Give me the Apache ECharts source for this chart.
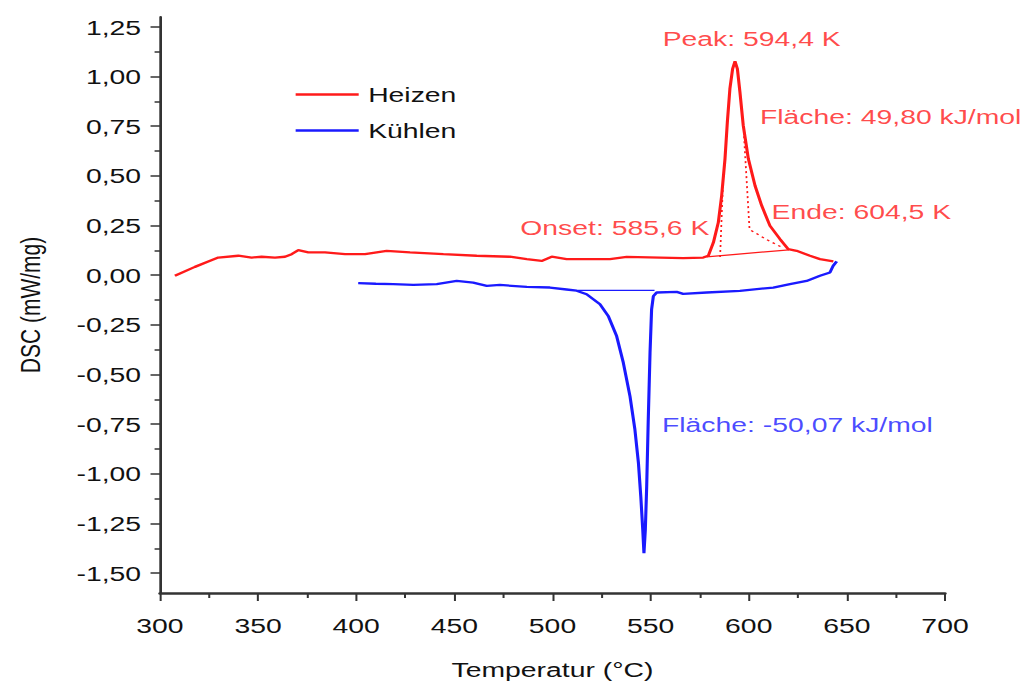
<!DOCTYPE html>
<html>
<head>
<meta charset="utf-8">
<script src="https://cdn.jsdelivr.net/npm/echarts@6/dist/echarts.min.js"></script>
<style>
  html, body { margin: 0; padding: 0; background: #fff; overflow: hidden; width: 1026px; height: 696px; }
  /* the plot is laid out on a narrower canvas and widened horizontally */
  #chart { width: 760px; height: 696px; transform: scaleX(1.35); transform-origin: 0 0; }
</style>
</head>
<body>
<div id="chart"></div>
<script>
// DSC measurement: heating and cooling run, temperature in °C, signal in mW/mg
const heating = [
  [307.6, -0.003], [317.8, 0.042], [324.6, 0.069], [329.7, 0.089], [339.9, 0.098],
  [346.7, 0.089], [351.8, 0.093], [358.6, 0.089], [363.7, 0.093], [367.1, 0.106],
  [370.5, 0.126], [375.6, 0.115], [384.1, 0.115], [394.3, 0.106], [404.5, 0.106],
  [415.5, 0.123], [427.4, 0.115], [444.4, 0.106], [461.4, 0.098], [478.3, 0.093],
  [486.9, 0.081], [494.5, 0.072], [499.6, 0.093], [507.2, 0.081], [514.0, 0.081],
  [529.3, 0.081], [537.8, 0.092], [554.8, 0.089], [566.6, 0.086], [576.8, 0.089],
  [579.4, 0.098], [582.0, 0.165], [584.5, 0.266], [586.2, 0.400], [587.9, 0.586],
  [589.1, 0.771], [590.4, 0.939], [591.8, 1.040], [593.0, 1.077], [594.2, 1.040],
  [595.5, 0.923], [597.2, 0.754], [599.8, 0.586], [603.2, 0.451], [606.6, 0.350],
  [610.8, 0.249], [615.9, 0.182], [620.1, 0.131], [624.4, 0.123], [631.2, 0.098],
  [636.3, 0.081], [643.1, 0.070]
];

const cooling = [
  [401.0, -0.040], [410.0, -0.043], [418.9, -0.045], [429.1, -0.049], [441.0, -0.045],
  [451.2, -0.029], [459.6, -0.037], [466.5, -0.054], [473.2, -0.049], [486.9, -0.059],
  [498.7, -0.062], [507.2, -0.072], [512.3, -0.078], [517.4, -0.096], [524.2, -0.146],
  [528.4, -0.205], [532.7, -0.307], [536.1, -0.441], [539.5, -0.610], [542.0, -0.778],
  [543.8, -0.946], [545.0, -1.115], [546.0, -1.283], [546.6, -1.400], [547.3, -1.283],
  [548.0, -1.064], [548.8, -0.727], [549.7, -0.390], [550.5, -0.172], [551.4, -0.105],
  [553.1, -0.087], [563.3, -0.084], [566.6, -0.094], [578.6, -0.087], [595.5, -0.079],
  [612.5, -0.062], [621.0, -0.045], [629.5, -0.029], [636.3, -0.003], [641.4, 0.014],
  [643.0, 0.047], [644.8, 0.070]
];

// integration baselines and onset / end tangents
const heatBaseline = [[578.5, 0.092], [620.5, 0.128]];
const onsetTangent = [[585.4, 0.092], [587.0, 0.500]];
const endTangent = [[597.6, 0.700], [600.4, 0.230], [609.0, 0.180], [617.0, 0.140]];
const coolBaseline = [[512.8, -0.076], [552.0, -0.076]];

const seriesNames = ['Heizen', 'Kühlen'];
const annotationText = [
  'Peak: 594,4 K',
  'Fläche: 49,80 kJ/mol',
  'Ende: 604,5 K',
  'Onset: 585,6 K',
  'Fläche: -50,07 kJ/mol'
];

const xTicks = { min: 300, max: 700, step: 50 };
const yMajorTicks = [-1.5, -1.25, -1.0, -0.75, -0.5, -0.25, 0, 0.25, 0.5, 0.75, 1.0, 1.25];
const yMinorTicks = [-1.375, -1.125, -0.875, -0.625, -0.375, -0.125, 0.125, 0.375, 0.625, 0.875, 1.125];
const yRange = { min: -1.6, max: 1.3 };

const RED = '#ff1a1a';
const BLUE = '#1a1aff';
const AXIS = '#333333';
const INK = '#111111';
const FONT = '"Liberation Sans", Arial, Helvetica, sans-serif';

const chart = echarts.init(document.getElementById('chart'), null, { renderer: 'svg' });

const commaFmt = v => v.toFixed(2).replace('.', ',');

chart.setOption({
  animation: false,
  backgroundColor: '#fff',
  textStyle: { fontFamily: FONT },
  grid: { left: 118.5, right: 60, top: 17, bottom: 103 },
  legend: {
    data: seriesNames,
    orient: 'vertical',
    left: 214,
    top: 79,
    itemWidth: 46.7,
    itemHeight: 2.5,
    itemGap: 15,
    icon: 'rect',
    textStyle: { fontSize: 21, color: INK, fontFamily: FONT, padding: [0, 0, 0, 2] }
  },
  xAxis: {
    type: 'value',
    min: xTicks.min,
    max: xTicks.max,
    interval: xTicks.step,
    name: 'Temperatur (°C)',
    nameLocation: 'middle',
    nameGap: 66,
    nameTextStyle: { fontSize: 21, color: INK, fontFamily: FONT },
    axisLine: { show: true, onZero: false, lineStyle: { color: AXIS, width: 2.5 } },
    axisTick: { show: true, inside: false, length: 8, lineStyle: { color: AXIS, width: 1.5 } },
    minorTick: { show: true, splitNumber: 2, length: 5, lineStyle: { color: AXIS, width: 1.5 } },
    axisLabel: { fontSize: 21, color: INK, margin: 22, fontFamily: FONT },
    splitLine: { show: false }
  },
  yAxis: [
    {
      type: 'value',
      position: 'left',
      min: yRange.min,
      max: yRange.max,
      name: 'DSC (mW/mg)',
      nameLocation: 'middle',
      nameGap: 86,
      nameRotate: 90,
      nameTextStyle: { fontSize: 21, color: INK, fontFamily: FONT },
      axisLine: { show: true, onZero: false, lineStyle: { color: AXIS, width: 2 } },
      axisTick: { show: true, length: 7, customValues: yMajorTicks, lineStyle: { color: AXIS, width: 1.5 } },
      axisLabel: { fontSize: 21, color: INK, margin: 14, fontFamily: FONT, customValues: yMajorTicks, formatter: commaFmt },
      splitLine: { show: false }
    },
    {
      type: 'value',
      position: 'left',
      offset: 0,
      min: yRange.min,
      max: yRange.max,
      axisLine: { show: false },
      axisTick: { show: true, length: 4, customValues: yMinorTicks, lineStyle: { color: AXIS, width: 1.5 } },
      axisLabel: { show: false, customValues: yMinorTicks },
      splitLine: { show: false }
    }
  ],
  series: [
    {
      name: seriesNames[0], type: 'line', data: heating, symbol: 'none',
      color: RED, lineStyle: { color: RED, width: 2.3 }, z: 3
    },
    {
      name: seriesNames[1], type: 'line', data: cooling, symbol: 'none',
      color: BLUE, lineStyle: { color: BLUE, width: 2.3 }, z: 3
    },
    {
      name: 'heat-baseline', type: 'line', data: heatBaseline, symbol: 'none',
      lineStyle: { color: RED, width: 1.3 }, z: 2
    },
    {
      name: 'onset-tangent', type: 'line', data: onsetTangent, symbol: 'none',
      lineStyle: { color: RED, width: 1.3, type: [2, 3] }, z: 2
    },
    {
      name: 'end-tangent', type: 'line', data: endTangent, symbol: 'none',
      lineStyle: { color: RED, width: 1.3, type: [2, 3] }, z: 2
    },
    {
      name: 'cool-baseline', type: 'line', data: coolBaseline, symbol: 'none',
      lineStyle: { color: BLUE, width: 1.3 }, z: 2
    },
    {
      name: 'annotations', type: 'scatter', symbolSize: 0, silent: true, z: 5,
      label: {
        show: true, position: [0, 0], verticalAlign: 'middle',
        fontSize: 21, fontFamily: FONT, formatter: p => p.name
      },
      data: [
        { name: annotationText[0], value: [601.5, 1.192], label: { align: 'center', color: RED } },
        { name: annotationText[1], value: [605.7, 0.798], label: { align: 'left', color: RED } },
        { name: annotationText[2], value: [611.6, 0.322], label: { align: 'left', color: RED } },
        { name: annotationText[3], value: [483.6, 0.241], label: { align: 'left', color: RED } },
        { name: annotationText[4], value: [555.8, -0.753], label: { align: 'left', color: BLUE } }
      ]
    }
  ]
});
</script>
</body>
</html>
